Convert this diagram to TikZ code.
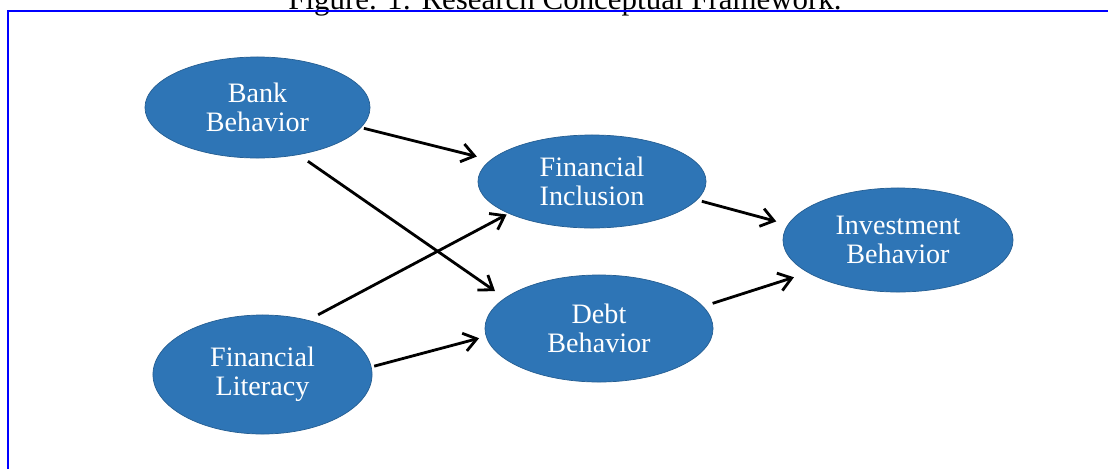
\documentclass[tikz,border=0pt]{standalone}
\usepackage{fontspec}
\setmainfont{Liberation Serif}
\usetikzlibrary{shapes.geometric,arrows.meta}
\definecolor{varblue}{RGB}{46,117,182}

\begin{document}
\begin{tikzpicture}[x=0.025cm, y=-0.025cm,
		var/.style={draw=varblue!80!black, line width=0.5pt, ellipse, fill=varblue, text=white, inner sep=0pt, align=center, font=\fontsize{20}{20.6}\selectfont},
		link/.style={line width=2pt, -{Straight Barb[length=9pt, width=13pt, line width=2pt]}}]
			\clip (0, 0) rectangle (1108, 468);
			\useasboundingbox (0, 0) rectangle (1108, 468);
			\draw (565, 9) 		node[anchor=base, font=\fontsize{22}{26}\selectfont] 	(cap) 	{Figure. 1: Research Conceptual Framework.};
			\draw[blue, line width=2pt] (8, 11) rectangle (1130, 490);

			\draw (257.5, 107.5) 	node[var, minimum width=5.625cm, minimum height=2.525cm] 	(bank) 		{Bank\\Behavior};
			\draw (592, 181.5) 	node[var, minimum width=5.7cm, minimum height=2.325cm] 	(incl) 		{Financial\\Inclusion};
			\draw (898, 240) 		node[var, minimum width=5.75cm, minimum height=2.6cm] 	(inv) 		{Investment\\Behavior};
			\draw (599, 328.5) 	node[var, minimum width=5.7cm, minimum height=2.675cm] 	(debt) 		{Debt\\Behavior};
			\draw (262.5, 374.5) 	node[var, minimum width=5.475cm, minimum height=2.975cm] 	(lit) 		{Financial\\Literacy};

			\draw[link, shorten <=2pt, shorten >=10pt] (bank.-11) -- (incl.168);
			\draw[link, shorten <=8pt, shorten >=8.5pt] (bank.-49) -- (debt.162);
			\draw[link, shorten <=8pt, shorten >=1.5pt] (lit.50) -- (incl.-159);
			\draw[link, shorten <=2pt, shorten >=5pt] (lit.4) -- (debt.-176);
			\draw[link, shorten <=3.5pt, shorten >=8.5pt] (incl.-10) -- (inv.172);
			\draw[link, shorten <=7pt, shorten >=10.5pt] (debt.12) -- (inv.-160);
		\end{tikzpicture}
\end{document}
